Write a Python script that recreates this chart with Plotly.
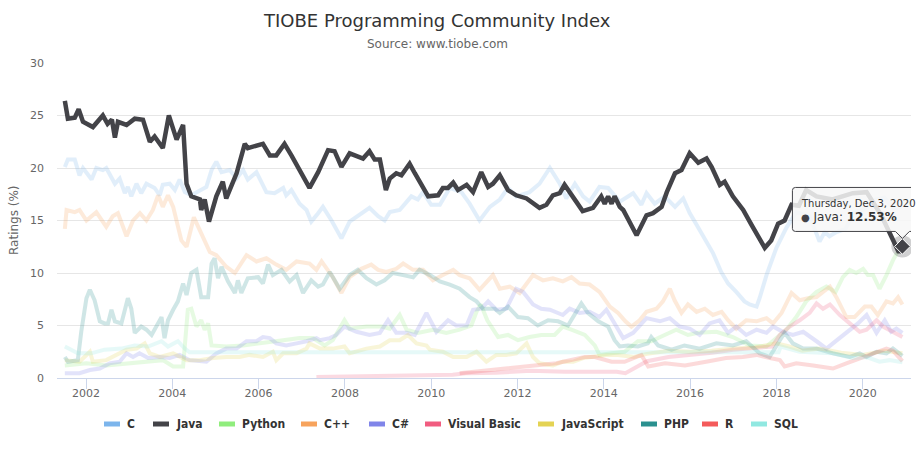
import plotly.graph_objects as go

# ---------------- text ----------------
title_text = "TIOBE Programming Community Index"
subtitle_text = "Source: www.tiobe.com"
y_title = "Ratings (%)"
tooltip_date = "Thursday, Dec 3, 2020"

series_names = ["C", "Java", "Python", "C++", "C#", "Visual Basic",
                "JavaScript", "PHP", "R", "SQL"]
series_colors = ["#7cb5ec", "#434348", "#90ed7d", "#f7a35c", "#8085e9",
                 "#f15c80", "#e4d354", "#2b908f", "#f45b5b", "#91e8e1"]

x_ticks = [2002, 2004, 2006, 2008, 2010, 2012, 2014, 2016, 2018, 2020]
y_ticks = [0, 5, 10, 15, 20, 25, 30]

# ---------------- data (decimal year, rating %) ----------------
c_data = [(2001.51,20.1),(2001.58,20.8),(2001.74,20.8),(2001.85,19.3),(2001.93,20.0),(2002.01,19.6),
 (2002.13,18.9),(2002.24,20.0),(2002.39,19.8),(2002.47,20.0),(2002.67,18.5),(2002.78,19.0),(2002.90,17.6),
 (2002.97,18.2),(2003.05,17.3),(2003.17,18.5),(2003.28,17.6),(2003.40,18.5),(2003.59,18.1),(2003.71,17.4),
 (2003.78,18.4),(2003.94,18.5),(2004.06,17.9),(2004.17,18.9),(2004.29,17.7),(2004.44,17.4),(2004.64,17.9),
 (2004.79,18.2),(2004.91,19.8),(2005.02,20.6),(2005.14,19.6),(2005.33,19.8),(2005.49,19.0),(2005.64,19.8),
 (2005.75,18.9),(2005.95,19.6),(2006.18,17.7),(2006.37,17.6),(2006.57,18.1),(2006.64,17.4),(2006.76,17.9),
 (2006.95,16.6),(2007.11,16.0),(2007.22,14.9),(2007.38,15.7),(2007.49,16.3),(2007.69,15.0),(2007.92,13.3),
 (2008.11,14.9),(2008.30,15.4),(2008.57,16.2),(2008.77,15.4),(2008.92,15.0),(2009.04,15.8),(2009.27,16.0),
 (2009.54,17.3),(2009.69,17.0),(2009.81,17.7),(2010.00,16.5),(2010.20,16.5),(2010.43,18.1),(2010.70,17.7),
 (2010.89,16.6),(2011.12,15.0),(2011.36,16.3),(2011.59,17.0),(2011.78,18.1),(2011.97,17.3),(2012.28,17.7),
 (2012.51,18.5),(2012.75,20.0),(2012.98,18.5),(2013.13,17.1),(2013.33,18.5),(2013.52,17.3),(2013.67,16.8),
 (2013.90,18.2),(2014.10,18.1),(2014.25,17.3),(2014.37,16.8),(2014.68,17.6),(2014.87,16.5),(2014.99,17.6),
 (2015.18,16.6),(2015.41,17.3),(2015.65,16.3),(2015.84,17.1),(2015.99,15.7),(2016.15,14.6),(2016.30,13.6),
 (2016.53,11.9),(2016.72,10.1),(2016.88,9.0),(2017.07,8.2),(2017.26,7.3),(2017.38,7.0),(2017.54,6.8),
 (2017.61,7.6),(2017.77,9.8),(2018.00,12.4),(2018.23,14.3),(2018.46,15.8),(2018.77,15.4),(2019.00,13.0),
 (2019.12,13.9),(2019.23,13.5),(2019.39,13.9),(2019.60,14.2),(2019.80,15.8),(2020.00,16.0),(2020.30,17.0),
 (2020.50,17.2),(2020.70,16.2),(2020.84,16.2),(2020.92,16.5)]

java_data = [(2001.51,26.4),(2001.58,24.7),(2001.74,24.8),(2001.83,25.6),(2001.93,24.4),(2002.16,23.9),
 (2002.39,25.0),(2002.50,24.2),(2002.60,24.6),(2002.67,22.9),(2002.74,24.4),(2002.94,24.1),(2003.13,24.7),
 (2003.32,24.6),(2003.48,22.5),(2003.59,23.0),(2003.78,21.9),(2003.92,25.0),(2004.10,22.7),(2004.25,24.1),
 (2004.33,18.5),(2004.44,17.3),(2004.64,17.0),(2004.67,16.0),(2004.75,17.0),(2004.85,14.9),(2005.02,17.3),
 (2005.17,18.7),(2005.25,17.1),(2005.49,19.5),(2005.68,22.3),(2005.75,21.9),(2006.10,22.3),(2006.26,21.2),
 (2006.41,21.2),(2006.60,22.3),(2006.76,21.2),(2007.03,19.2),(2007.18,18.1),(2007.38,19.6),(2007.61,21.7),
 (2007.76,21.6),(2007.92,20.1),(2008.11,21.4),(2008.42,20.9),(2008.57,21.6),(2008.69,20.8),(2008.81,20.8),
 (2008.95,17.9),(2009.04,19.0),(2009.19,19.5),(2009.31,19.3),(2009.50,20.4),(2009.62,19.5),(2009.77,18.5),
 (2009.93,17.3),(2010.16,17.4),(2010.27,18.1),(2010.39,18.1),(2010.51,18.6),(2010.62,17.9),(2010.82,18.4),
 (2010.97,17.7),(2011.16,19.6),(2011.32,18.2),(2011.43,18.5),(2011.59,19.3),(2011.78,17.9),(2011.97,17.4),
 (2012.21,17.1),(2012.51,16.2),(2012.67,16.5),(2012.82,17.4),(2012.98,17.6),(2013.09,18.4),(2013.21,17.6),
 (2013.36,16.8),(2013.51,15.9),(2013.75,16.2),(2013.94,17.3),(2014.02,16.6),(2014.10,17.3),(2014.18,16.6),
 (2014.25,17.3),(2014.37,16.3),(2014.45,16.0),(2014.76,13.6),(2014.99,15.5),(2015.14,15.7),(2015.34,16.3),
 (2015.46,17.7),(2015.65,19.5),(2015.80,19.8),(2015.99,21.4),(2016.19,20.5),(2016.38,20.9),(2016.50,20.1),
 (2016.69,18.4),(2016.80,18.7),(2016.99,17.3),(2017.23,16.0),(2017.42,14.6),(2017.57,13.5),(2017.73,12.4),
 (2017.88,13.1),(2018.04,14.7),(2018.19,15.0),(2018.35,16.5),(2018.52,16.4),(2018.69,17.9),(2018.93,17.3),
 (2019.30,17.0),(2019.77,17.6),(2020.09,17.7),(2020.43,15.5),(2020.60,14.0),(2020.84,11.96),(2020.92,12.53)]

python_data = [(2001.51,1.2),(2002.01,1.4),(2002.47,1.2),(2002.94,1.4),(2003.40,1.55),(2003.78,1.7),
 (2004.02,1.1),(2004.25,1.1),(2004.36,6.5),(2004.44,6.6),(2004.56,4.9),(2004.67,5.5),(2004.75,4.6),
 (2004.83,5.2),(2004.91,3.1),(2005.25,3.0),(2005.64,3.1),(2006.10,3.3),(2006.57,3.6),(2006.95,3.8),
 (2007.26,3.8),(2007.53,3.1),(2007.72,3.6),(2007.99,5.5),(2008.11,4.7),(2008.50,4.9),(2008.85,4.9),
 (2009.04,4.7),(2009.27,6.0),(2009.43,4.6),(2009.69,4.3),(2010.04,4.6),(2010.35,4.3),(2010.66,4.6),
 (2010.93,5.0),(2011.05,6.3),(2011.15,7.0),(2011.30,5.5),(2011.55,3.9),(2011.78,4.1),(2012.01,3.6),
 (2012.28,3.9),(2012.55,4.1),(2012.86,4.1),(2013.05,4.9),(2013.25,4.6),(2013.56,4.1),(2013.79,3.1),
 (2013.90,2.2),(2014.18,2.35),(2014.48,2.5),(2014.79,3.5),(2015.10,3.5),(2015.41,4.1),(2015.68,4.6),
 (2015.95,4.1),(2016.18,4.3),(2016.61,4.4),(2016.99,3.9),(2017.38,3.1),(2017.77,3.0),(2018.00,3.8),
 (2018.23,4.6),(2018.46,5.8),(2018.69,7.3),(2018.93,8.2),(2019.16,8.7),(2019.37,8.2),(2019.54,9.6),
 (2019.70,10.3),(2019.85,10.0),(2020.01,10.4),(2020.12,9.8),(2020.24,9.8),(2020.39,8.5),(2020.55,9.8),
 (2020.70,11.2),(2020.86,12.4),(2020.92,12.2)]

cpp_data = [(2001.51,14.2),(2001.55,16.0),(2001.74,15.8),(2001.85,16.0),(2002.01,15.0),(2002.24,15.8),
 (2002.47,14.4),(2002.62,15.4),(2002.74,15.7),(2002.94,13.5),(2003.09,15.0),(2003.25,15.7),(2003.40,15.0),
 (2003.55,16.0),(2003.67,17.4),(2003.78,16.3),(2003.90,17.4),(2004.02,16.3),(2004.21,13.1),(2004.33,12.5),
 (2004.50,15.3),(2004.64,14.1),(2004.87,12.0),(2005.02,11.7),(2005.25,10.6),(2005.45,10.0),(2005.72,11.7),
 (2005.95,11.1),(2006.18,11.4),(2006.41,10.8),(2006.64,10.3),(2006.88,11.1),(2007.18,10.9),(2007.34,10.3),
 (2007.46,11.1),(2007.72,9.6),(2007.92,8.1),(2008.11,9.6),(2008.38,10.4),(2008.61,10.8),(2008.77,10.3),
 (2008.96,10.1),(2009.19,10.4),(2009.35,10.9),(2009.58,10.3),(2009.81,10.3),(2010.04,9.3),(2010.27,9.8),
 (2010.51,10.3),(2010.66,9.8),(2010.89,9.5),(2011.12,8.4),(2011.28,9.2),(2011.43,9.8),(2011.59,8.5),
 (2011.82,8.7),(2012.05,8.1),(2012.36,9.8),(2012.59,9.3),(2012.82,9.5),(2013.05,9.2),(2013.25,9.6),
 (2013.44,9.0),(2013.67,8.9),(2013.90,8.2),(2014.14,6.8),(2014.33,6.2),(2014.50,5.4),(2014.64,4.9),
 (2014.83,5.5),(2014.99,6.3),(2015.22,6.6),(2015.37,7.3),(2015.53,8.5),(2015.64,7.4),(2015.80,6.2),
 (2015.95,7.0),(2016.15,6.3),(2016.34,6.6),(2016.53,6.0),(2016.73,6.3),(2016.88,5.5),(2017.07,4.7),
 (2017.30,5.5),(2017.54,5.4),(2017.77,5.7),(2017.92,5.2),(2018.12,6.2),(2018.35,8.1),(2018.54,7.4),
 (2018.73,7.6),(2018.93,7.7),(2019.08,8.2),(2019.24,8.7),(2019.39,7.7),(2019.62,5.8),(2019.81,5.8),
 (2020.05,6.8),(2020.20,6.8),(2020.35,6.0),(2020.55,7.3),(2020.70,7.1),(2020.82,7.7),(2020.92,7.0)]

csharp_data = [(2001.51,0.45),(2001.85,0.45),(2002.09,0.76),(2002.32,0.9),(2002.55,1.4),(2002.78,1.55),
 (2002.94,2.35),(2003.09,2.0),(2003.24,2.35),(2003.44,1.9),(2003.71,2.0),(2003.94,1.9),(2004.17,2.2),
 (2004.40,1.7),(2004.79,1.55),(2005.02,2.35),(2005.25,2.8),(2005.49,2.8),(2005.72,3.5),(2005.95,3.5),
 (2006.10,3.9),(2006.26,3.8),(2006.41,3.3),(2006.64,3.1),(2006.88,3.3),(2007.11,3.5),(2007.34,3.8),
 (2007.42,3.6),(2007.65,3.8),(2007.80,4.1),(2007.99,4.9),(2008.27,4.4),(2008.57,4.1),(2008.81,4.3),
 (2009.00,5.5),(2009.19,4.3),(2009.43,4.3),(2009.62,4.1),(2009.89,6.2),(2010.12,4.4),(2010.39,5.5),
 (2010.58,5.0),(2010.82,5.0),(2010.97,6.5),(2011.16,6.6),(2011.32,7.3),(2011.51,6.5),(2011.74,6.6),
 (2011.97,8.5),(2012.13,8.2),(2012.36,7.0),(2012.55,6.6),(2012.75,6.5),(2013.05,6.0),(2013.21,6.6),
 (2013.44,6.2),(2013.67,6.3),(2013.90,5.8),(2014.06,6.5),(2014.25,5.2),(2014.45,3.8),(2014.68,4.3),
 (2014.99,5.7),(2015.30,5.4),(2015.53,5.7),(2015.76,4.9),(2015.99,4.7),(2016.22,4.1),(2016.45,5.2),
 (2016.68,5.5),(2016.88,4.3),(2017.07,4.9),(2017.30,4.1),(2017.54,4.6),(2017.77,4.3),(2017.92,4.9),
 (2018.15,4.4),(2018.38,4.1),(2018.62,4.4),(2018.93,3.5),(2019.16,2.8),(2019.31,3.3),(2019.47,3.8),
 (2019.70,4.6),(2019.89,5.2),(2020.09,6.0),(2020.32,4.3),(2020.51,5.5),(2020.66,4.4),(2020.78,4.7),
 (2020.92,4.3)]

vb_data = [(2007.34,0.1),(2008.50,0.15),(2009.50,0.2),(2010.50,0.3),(2010.80,0.45),(2011.50,0.5),
 (2012.30,0.7),(2013.10,0.6),(2013.90,0.6),(2014.30,0.6),(2014.50,0.45),(2014.70,0.9),(2015.00,1.6),
 (2015.50,2.0),(2016.00,2.2),(2016.50,2.4),(2017.00,2.7),(2017.50,2.9),(2017.90,3.0),(2018.08,4.1),
 (2018.31,4.9),(2018.54,5.5),(2018.77,6.2),(2018.93,7.1),(2019.08,6.6),(2019.24,7.0),(2019.47,6.0),
 (2019.70,5.2),(2019.93,4.4),(2020.09,4.6),(2020.32,5.5),(2020.47,4.9),(2020.62,4.6),(2020.92,3.9)]

js_data = [(2001.51,1.7),(2001.85,1.55),(2002.09,2.5),(2002.16,1.55),(2002.47,1.7),(2002.70,2.2),
 (2002.94,2.7),(2003.17,2.8),(2003.36,3.3),(2003.48,2.35),(2003.71,2.0),(2004.02,2.35),(2004.33,1.7),
 (2004.64,1.7),(2004.94,1.9),(2005.25,2.0),(2005.56,2.0),(2005.79,2.2),(2006.10,2.0),(2006.33,2.5),
 (2006.41,1.7),(2006.57,2.35),(2006.88,2.35),(2007.11,2.8),(2007.18,3.3),(2007.42,2.8),(2007.72,2.8),
 (2007.99,3.0),(2008.11,2.35),(2008.50,2.8),(2008.81,3.0),(2009.04,3.6),(2009.27,3.6),(2009.46,4.1),
 (2009.66,3.3),(2009.89,3.1),(2009.97,2.7),(2010.27,2.5),(2010.51,2.0),(2010.82,2.0),(2011.05,2.5),
 (2011.28,1.55),(2011.51,2.2),(2011.74,2.2),(2011.97,2.35),(2012.21,3.3),(2012.36,2.0),(2012.51,1.4),
 (2012.82,1.2),(2013.05,1.55),(2013.29,1.55),(2013.52,1.9),(2013.75,2.0),(2014.06,2.2),(2014.33,2.2),
 (2014.70,2.0),(2015.00,2.3),(2015.50,2.6),(2016.00,2.5),(2016.50,2.6),(2017.00,2.8),(2017.50,2.9),
 (2018.00,3.3),(2018.30,3.0),(2018.60,2.6),(2019.00,2.8),(2019.50,2.4),(2020.00,2.2),(2020.50,2.6),
 (2020.92,2.35)]

php_data = [(2001.51,2.0),(2001.58,1.55),(2001.81,1.7),(2001.89,4.4),(2002.01,7.6),(2002.09,8.4),
 (2002.20,7.4),(2002.32,5.4),(2002.43,5.2),(2002.51,5.2),(2002.59,6.5),(2002.67,5.4),(2002.82,5.2),
 (2002.97,7.6),(2003.05,6.6),(2003.13,4.3),(2003.28,4.9),(2003.40,4.6),(2003.52,4.1),(2003.63,4.9),
 (2003.75,5.8),(2003.82,3.8),(2003.90,5.5),(2004.02,6.5),(2004.13,7.3),(2004.25,9.0),(2004.33,7.9),
 (2004.44,10.0),(2004.56,10.3),(2004.67,7.7),(2004.83,7.7),(2004.91,10.9),(2004.98,11.4),(2005.06,9.5),
 (2005.14,10.6),(2005.29,9.2),(2005.45,8.1),(2005.52,9.3),(2005.60,8.1),(2005.75,9.5),(2005.99,9.6),
 (2006.10,9.0),(2006.22,10.8),(2006.33,9.8),(2006.53,10.3),(2006.72,9.2),(2006.88,9.8),(2007.03,8.1),
 (2007.22,9.3),(2007.38,8.7),(2007.49,8.9),(2007.65,10.1),(2007.88,8.5),(2008.11,9.8),(2008.30,10.3),
 (2008.50,9.5),(2008.73,8.9),(2008.92,9.3),(2009.11,10.0),(2009.35,9.8),(2009.58,9.6),(2009.73,10.3),
 (2009.97,9.8),(2010.20,9.2),(2010.43,8.9),(2010.66,8.5),(2010.89,7.7),(2011.05,7.3),(2011.20,6.6),
 (2011.47,6.6),(2011.59,6.2),(2011.78,6.8),(2012.01,5.8),(2012.24,5.7),(2012.47,5.0),(2012.71,5.5),
 (2012.94,5.4),(2013.17,5.0),(2013.33,6.0),(2013.48,7.1),(2013.63,6.2),(2013.87,5.4),(2014.10,4.9),
 (2014.25,3.6),(2014.37,3.0),(2014.56,3.1),(2014.79,3.0),(2015.02,3.3),(2015.10,3.9),(2015.26,3.1),
 (2015.57,2.7),(2015.87,3.1),(2016.22,2.8),(2016.61,3.3),(2016.99,3.1),(2017.30,3.5),(2017.61,2.35),
 (2017.84,2.0),(2018.08,3.6),(2018.19,4.3),(2018.38,3.3),(2018.62,2.8),(2018.93,2.8),(2019.31,2.35),
 (2019.70,2.0),(2019.93,2.35),(2020.09,2.0),(2020.32,2.5),(2020.55,2.35),(2020.70,2.8),(2020.92,2.1)]

r_data = [(2010.66,0.45),(2011.00,0.6),(2011.77,0.9),(2012.50,1.2),(2012.90,1.4),(2013.56,2.0),
 (2013.79,2.0),(2014.18,1.55),(2014.48,1.55),(2014.87,2.2),(2015.03,1.1),(2015.42,1.4),(2015.88,1.2),
 (2016.37,1.55),(2016.83,1.9),(2017.22,2.0),(2017.54,2.2),(2017.85,1.9),(2018.08,1.7),(2018.19,1.1),
 (2018.46,1.4),(2018.85,1.2),(2019.31,0.9),(2019.62,1.4),(2019.93,1.9),(2020.24,2.35),(2020.55,2.8),
 (2020.70,2.6),(2020.92,1.6)]

sql_data = [(2001.51,3.0),(2001.81,2.35),(2002.12,2.35),(2002.43,2.7),(2002.82,2.8),(2003.13,3.1),
 (2003.44,3.0),(2003.75,3.5),(2003.90,3.0),(2004.13,3.5),(2004.29,2.8),(2004.40,2.45),(2018.05,2.45),
 (2018.10,3.0),(2018.54,2.5),(2019.31,2.35),(2019.77,1.9),(2020.09,2.0),(2020.39,1.55),(2020.62,1.7),
 (2020.92,1.5)]

all_series = [c_data, java_data, python_data, cpp_data, csharp_data, vb_data,
              js_data, php_data, r_data, sql_data]
hover_index = 1  # Java is the hovered series

# ---------------- layout geometry (pixels) ----------------
W, H = 924, 461
PL, PR, PT, PB = 57, 911, 63, 378
X_RANGE = [2001.328, 2021.119]
FONT = "DejaVu Sans"
LEGEND_FONT = "DejaVu Sans Condensed, DejaVu Sans"


def px(x):
    return (x - PL) / (PR - PL)


def py(y):
    return (PB - y) / (PB - PT)


fig = go.Figure()

# faded (inactive) series first
for i, (name, color, data) in enumerate(zip(series_names, series_colors, all_series)):
    if i == hover_index:
        continue
    t = [p[0] for p in data]
    v = [p[1] for p in data]
    fig.add_trace(go.Scatter(x=t, y=v, mode="lines", name=name,
                             line=dict(color=color, width=4),
                             opacity=0.22, hoverinfo="skip", showlegend=False))

# hovered series on top
jt = [p[0] for p in java_data]
jv = [p[1] for p in java_data]
fig.add_trace(go.Scatter(x=jt, y=jv, mode="lines", name="Java",
                         line=dict(color=series_colors[1], width=4.5),
                         hoverinfo="skip", showlegend=False))
# halo + hover marker on last point
fig.add_trace(go.Scatter(x=[jt[-1]], y=[jv[-1]], mode="markers",
                         marker=dict(size=22, color="rgba(67,67,72,0.25)"),
                         hoverinfo="skip", showlegend=False))
fig.add_trace(go.Scatter(x=[jt[-1]], y=[jv[-1]], mode="markers",
                         marker=dict(symbol="diamond", size=12, color=series_colors[1],
                                     line=dict(color="#ffffff", width=1)),
                         hoverinfo="skip", showlegend=False))

shapes = []
annotations = []

# tooltip callout anchored to the hovered point (pixel offsets, y up)
Lb, Rb, Tb, Bb, r = -110, 16, 59, 15, 3
callout = (f"M{Lb + r},{Tb} L{Rb - r},{Tb} Q{Rb},{Tb} {Rb},{Tb - r} L{Rb},{Bb + r} "
           f"Q{Rb},{Bb} {Rb - r},{Bb} L7,{Bb} L0,8 L-7,{Bb} L{Lb + r},{Bb} "
           f"Q{Lb},{Bb} {Lb},{Bb + r} L{Lb},{Tb - r} Q{Lb},{Tb} {Lb + r},{Tb} Z")
shapes.append(dict(type="path", xref="x", yref="y", xsizemode="pixel", ysizemode="pixel",
                   xanchor=jt[-1], yanchor=jv[-1], path=callout,
                   fillcolor="rgba(247,247,247,0.85)",
                   line=dict(color=series_colors[1], width=1), layer="above"))
annotations.append(dict(x=jt[-1], y=jv[-1], xref="x", yref="y", xanchor="left", yanchor="middle",
                        xshift=-103, yshift=43, showarrow=False, text=tooltip_date,
                        font=dict(family=FONT, size=10, color="#333333")))
annotations.append(dict(x=jt[-1], y=jv[-1], xref="x", yref="y", xanchor="left", yanchor="middle",
                        xshift=-103, yshift=29, showarrow=False,
                        text=(f"<span style='color:{series_colors[1]};font-size:10px'>\u25CF</span> "
                              f"{series_names[1]}: <b>{jv[-1]:.2f}%</b>"),
                        font=dict(family=FONT, size=12, color="#333333")))

# title / subtitle / axis title
annotations.append(dict(x=px(437), y=py(20), xref="paper", yref="paper", showarrow=False,
                        text=title_text, xanchor="center", yanchor="middle",
                        font=dict(family=FONT, size=18, color="#333333")))
annotations.append(dict(x=px(437), y=py(44), xref="paper", yref="paper", showarrow=False,
                        text=subtitle_text, xanchor="center", yanchor="middle",
                        font=dict(family=FONT, size=12, color="#666666")))
annotations.append(dict(x=px(14), y=py(220), xref="paper", yref="paper", showarrow=False,
                        text=y_title, textangle=-90, xanchor="center", yanchor="middle",
                        font=dict(family=FONT, size=12, color="#666666")))

# custom legend (Highcharts-style)
legend_x = [104, 153, 219, 301, 369, 425, 538, 641, 702, 751]
legend_y = 424
for name, color, lx in zip(series_names, series_colors, legend_x):
    shapes.append(dict(type="rect", xref="paper", yref="paper",
                       x0=px(lx), x1=px(lx + 16), y0=py(legend_y + 2.5), y1=py(legend_y - 2.5),
                       fillcolor=color, line=dict(width=0), layer="above"))
    annotations.append(dict(x=px(lx + 21), y=py(legend_y), xref="paper", yref="paper",
                            showarrow=False, text=f"<b>{name}</b>", xanchor="left", yanchor="middle",
                            font=dict(family=LEGEND_FONT, size=12, color="#333333")))

fig.update_layout(
    width=W, height=H,
    margin=dict(l=PL, r=W - PR, t=PT, b=H - PB, autoexpand=False),
    paper_bgcolor="#ffffff", plot_bgcolor="#ffffff",
    showlegend=False,
    font=dict(family=FONT, color="#666666"),
    shapes=shapes, annotations=annotations,
    xaxis=dict(range=X_RANGE, tickmode="array", tickvals=x_ticks,
               ticktext=[str(v) for v in x_ticks], showgrid=False, zeroline=False,
               showline=True, linecolor="#ccd6eb", linewidth=1, automargin=False,
               ticks="outside", ticklen=10, tickcolor="#ccd6eb", ticklabelstandoff=-5,
               tickfont=dict(family=FONT, size=11, color="#666666")),
    yaxis=dict(range=[0, 30], tickmode="array", tickvals=y_ticks, automargin=False,
               showgrid=True, gridcolor="#e6e6e6", gridwidth=1, zeroline=False,
               showline=False, ticks="", ticklabelstandoff=12,
               tickfont=dict(family=FONT, size=11, color="#666666")),
)

fig.write_html("out.html", config={"displayModeBar": False},
               post_script="document.body.style.margin='0px';")
